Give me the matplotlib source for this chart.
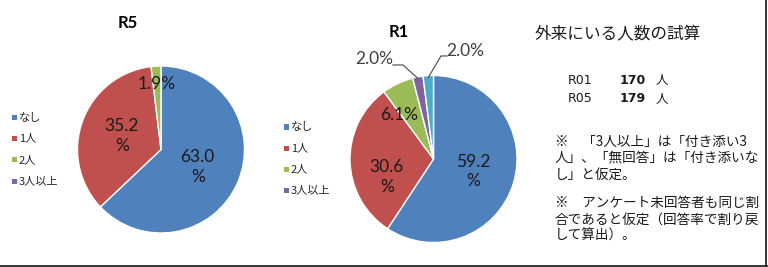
import matplotlib
matplotlib.use("Agg")
import matplotlib.pyplot as plt
from matplotlib.patches import Rectangle
from matplotlib.lines import Line2D
import numpy as np

# ---- data ----
categories = ["なし", "1人", "2人", "3人以上"]
slice_colors = ["#4F81BD", "#C0504D", "#9BBB59", "#8064A2", "#4BACC6"]
r5_values = [63.0, 35.2, 1.9]
r5_labels = ["63.0\n%", "35.2\n%", "1.9%"]
r1_values = [59.2, 30.6, 6.1, 2.0, 2.0]
r1_labels = ["59.2\n%", "30.6\n%", "6.1%", "2.0%", "2.0%"]
title_r5 = "R5"
title_r1 = "R1"
side_title = "外来にいる人数の試算"
rows = ["R01", "R05"]
row_values = ["170", "179"]
row_unit = "人"
notes = ["※　「3人以上」は「付き添い3",
         "人」、「無回答」は「付き添いな",
         "し」と仮定。",
         "",
         "※　アンケート未回答者も同じ割",
         "合であると仮定（回答率で割り戻",
         "して算出）。"]

# ---- layout ----
W, H = 768, 267
fig = plt.figure(figsize=(W / 100, H / 100), dpi=100)
fig.patch.set_facecolor("white")

NUM_FONT = ["Lato", "DejaVu Sans"]
JP_FONT = ["Noto Sans CJK JP", "DejaVu Sans"]


def fx(x):
    return x / W


def fy(y):
    return 1 - y / H


def pie_axes(cx, cy, r):
    ax = fig.add_axes([(cx - r) / W, 1 - (cy + r) / H, 2 * r / W, 2 * r / H])
    return ax


def draw_pie(ax, values, labels, label_pos, text_colors):
    wedges, _ = ax.pie(values, colors=slice_colors[:len(values)], startangle=90,
                       counterclock=False, radius=1,
                       wedgeprops=dict(edgecolor="white", linewidth=1.0))
    for w in wedges:
        w.set_clip_on(False)
    ax.set_xlim(-1, 1)
    ax.set_ylim(-1, 1)
    ax.set_axis_off()
    for lab, (x, y), c in zip(labels, label_pos, text_colors):
        ax.text(x, y, lab, ha="center", va="center", fontsize=12.5,
                linespacing=1.3, family=NUM_FONT, color=c, clip_on=False)
    return wedges


def wedge_point(wedge, r=0.98):
    ang = np.deg2rad((wedge.theta1 + wedge.theta2) / 2)
    return r * np.cos(ang), r * np.sin(ang)


# R5 pie
ax5 = pie_axes(161, 149.5, 83.5)
draw_pie(ax5, r5_values, r5_labels,
         [(0.44, -0.21), (-0.47, 0.16), (-0.05, 0.78)],
         ["#1a1a1a", "#1a1a1a", "#1a1a1a"])

# R1 pie
ax1 = pie_axes(433.5, 159, 83.5)
w1 = draw_pie(ax1, r1_values, r1_labels,
              [(0.47, -0.15), (-0.56, -0.22), (-0.41, 0.53), (-0.71, 1.20), (0.38, 1.29)],
              ["#1a1a1a", "#1a1a1a", "#1a1a1a", "#404040", "#404040"])
# leader lines for small slices
px, py = wedge_point(w1[3])
ax1.plot([-0.485, -0.365, px], [1.126, 1.126, py], color="#595959", lw=0.9, clip_on=False)
px, py = wedge_point(w1[4])
ax1.plot([0.162, 0.09, px], [1.234, 1.234, py], color="#595959", lw=0.9, clip_on=False)

# Titles
fig.text(fx(128), fy(23), title_r5, ha="center", va="center", fontsize=12,
         fontweight="bold", family=NUM_FONT)
fig.text(fx(399), fy(32), title_r1, ha="center", va="center", fontsize=12,
         fontweight="bold", family=NUM_FONT)


# Legends
def legend(x_marker, x_text, y0, step):
    for i, cat in enumerate(categories):
        y = y0 + i * step
        fig.add_artist(Rectangle((fx(x_marker - 2.5), fy(y + 2.5)), 5 / W, 5 / H,
                                 transform=fig.transFigure, facecolor=slice_colors[i],
                                 edgecolor="none"))
        fig.text(fx(x_text), fy(y), cat, ha="left", va="center", fontsize=8,
                 family=JP_FONT, color="#262626")


legend(14.5, 19, 117.5, 21.2)
legend(286, 291, 127, 21)

# Side text
fig.text(fx(535), fy(35), side_title, ha="left", va="center", fontsize=12,
         family=JP_FONT, color="#1a1a1a")
for i, (r, v) in enumerate(zip(rows, row_values)):
    y = 80 + i * 19
    fig.text(fx(568), fy(y), r, ha="left", va="center", fontsize=9,
             family=["DejaVu Sans"], color="#1a1a1a")
    fig.text(fx(620), fy(y), v, ha="left", va="center", fontsize=9,
             fontweight="bold", family=["DejaVu Sans"], color="#1a1a1a")
    fig.text(fx(656), fy(y), row_unit, ha="left", va="center", fontsize=9,
             family=JP_FONT, color="#1a1a1a")

note_y = [142, 158.5, 175, None, 203, 219.5, 236]
for line, y in zip(notes, note_y):
    if line and y is not None:
        fig.text(fx(555), fy(y), line, ha="left", va="center", fontsize=9.8,
                 family=JP_FONT, color="#1a1a1a")

# Frame lines (bottom and right)
fig.add_artist(Line2D([0, fx(766.5)], [fy(265.5), fy(265.5)], transform=fig.transFigure,
                      color="#262626", lw=1.3))
fig.add_artist(Line2D([fx(765.5), fx(765.5)], [fy(0), fy(266)], transform=fig.transFigure,
                      color="#262626", lw=1.3))

fig.savefig("out.png", dpi=100, facecolor="white")
